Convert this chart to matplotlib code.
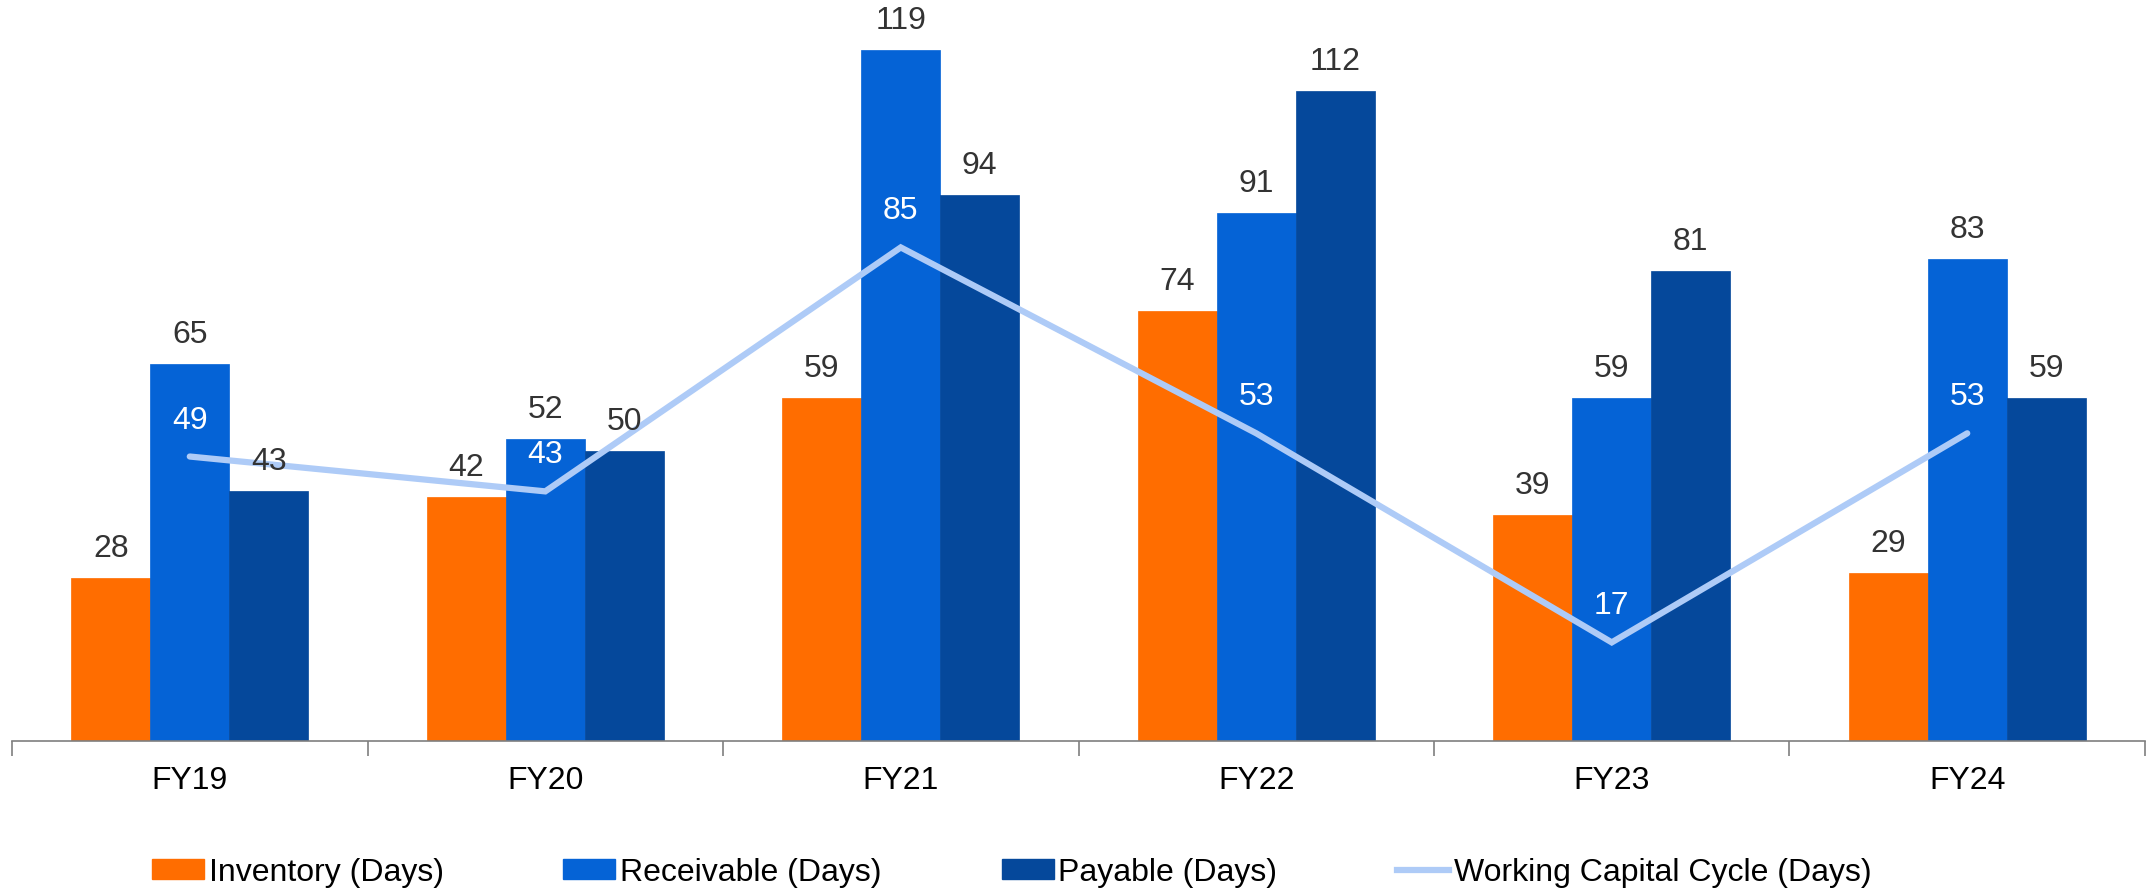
import matplotlib
matplotlib.use('Agg')

import numpy as np
import matplotlib.pyplot as plt
from matplotlib.lines import Line2D
from matplotlib.patches import Patch

# working capital data by fiscal year
years = ['FY19', 'FY20', 'FY21', 'FY22', 'FY23', 'FY24']
inventory = [28, 42, 59, 74, 39, 29]
receivable = [65, 52, 119, 91, 59, 83]
payable = [43, 50, 94, 112, 81, 59]
wc_cycle = [49, 43, 85, 53, 17, 53]

c_inv = '#FF6D00'
c_rec = '#0563D6'
c_pay = '#05489B'
c_line = '#AECBF7'
c_text = '#333333'

plt.rcParams['font.family'] = ['Liberation Sans', 'DejaVu Sans']
fs = 23

fig = plt.figure(figsize=(21.48, 8.94), dpi=100)
ax = fig.add_axes([0.0056, 0.171, 0.993, 0.829])

x = np.arange(len(years))
w = 0.222
series = [(inventory, c_inv, -w), (receivable, c_rec, 0), (payable, c_pay, w)]
for vals, col, off in series:
    bars = ax.bar(x + off, vals, w, color=col, edgecolor=col, linewidth=0.5, zorder=2)
    for b, v in zip(bars, vals):
        ax.annotate(str(v), (b.get_x() + b.get_width() / 2, v), xytext=(0, 29),
                    textcoords='offset pixels', ha='center', va='center',
                    fontsize=fs, color=c_text, zorder=4)

ax.plot(x, wc_cycle, color=c_line, lw=4.5, solid_capstyle='round',
        solid_joinstyle='miter', zorder=3)
for xi, v in zip(x, wc_cycle):
    ax.annotate(str(v), (xi, v), xytext=(0, 36), textcoords='offset pixels',
                ha='center', va='center', fontsize=fs, color='white', zorder=5)

ax.set_xlim(-0.5, len(years) - 0.5)
ax.set_ylim(0, 127.6)
ax.set_yticks([])
for s in ['top', 'left', 'right']:
    ax.spines[s].set_visible(False)
ax.spines['bottom'].set_color('#7f7f7f')
ax.spines['bottom'].set_linewidth(1.2)

# category labels at centres, tick marks at the group boundaries
ax.set_xticks(x)
ax.set_xticklabels(years, fontsize=fs, color='black')
ax.tick_params(axis='x', which='major', length=0, pad=18)
ax.set_xticks(np.arange(-0.5, len(years)), minor=True)
ax.tick_params(axis='x', which='minor', length=11, width=1.2, color='#7f7f7f')

handles = [Patch(color=c_inv, label='Inventory (Days)'),
           Patch(color=c_rec, label='Receivable (Days)'),
           Patch(color=c_pay, label='Payable (Days)'),
           Line2D([], [], color=c_line, lw=4.5, label='Working Capital Cycle (Days)')]
fig.legend(handles=handles, loc='center', bbox_to_anchor=(0.471, 0.024), ncol=4,
           frameon=False, fontsize=fs, handlelength=1.63, handleheight=0.6,
           handletextpad=0.15, columnspacing=3.75, borderaxespad=0)

plt.savefig('out.png', dpi=100)
